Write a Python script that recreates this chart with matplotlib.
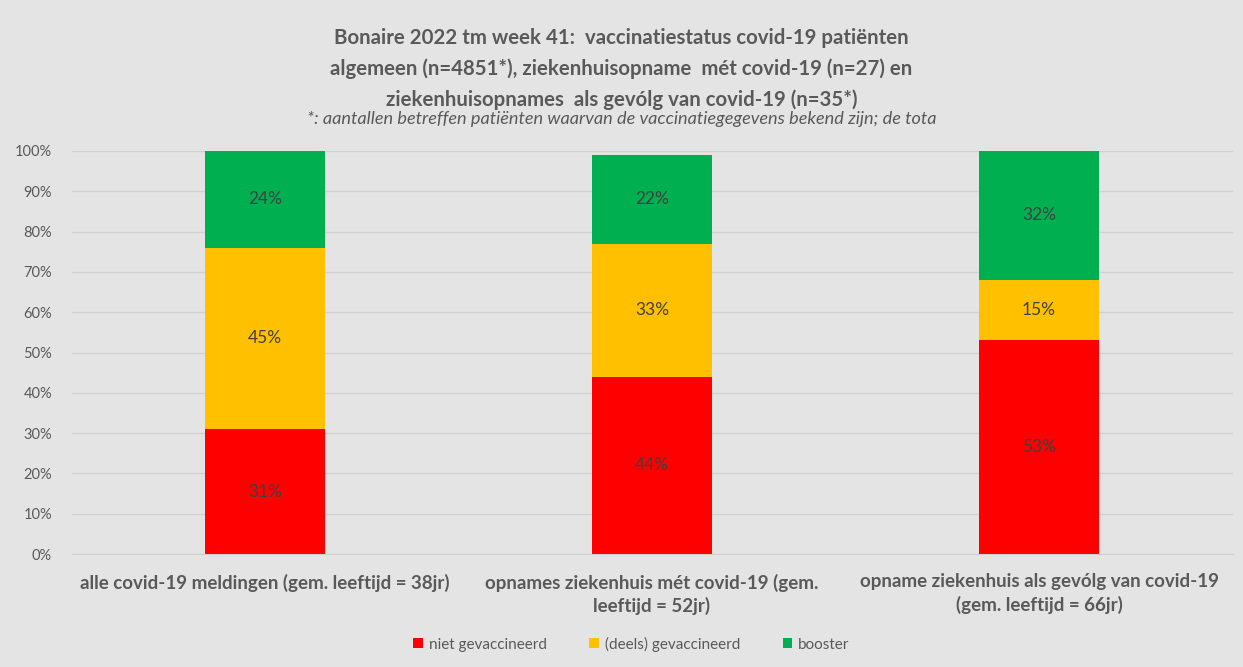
import matplotlib
matplotlib.use("Agg")
import matplotlib.pyplot as plt
import numpy as np

categories = ["alle covid-19 meldingen (gem. leeftijd = 38jr)",
              "opnames ziekenhuis mét covid-19 (gem.\nleeftijd = 52jr)",
              "opname ziekenhuis als gevólg van covid-19\n(gem. leeftijd = 66jr)"]
series_names = ["niet gevaccineerd", "(deels) gevaccineerd", "booster"]
niet = [31, 44, 53]
deels = [45, 33, 15]
booster = [24, 22, 32]
colors = ["#FF0000", "#FFC000", "#00B050"]
yticks = [0, 10, 20, 30, 40, 50, 60, 70, 80, 90, 100]

plt.rcParams['font.family'] = ['Lato', 'DejaVu Sans']
bg = "#E4E4E4"
fig = plt.figure(figsize=(12.43, 6.67), dpi=100, facecolor=bg)
ax = fig.add_axes([71.5/1243, 1-554/667, (1232.5-71.5)/1243, (554-151)/667])
ax.set_facecolor(bg)

x = np.arange(len(categories))
w = 0.31
bottoms = np.zeros(3)
for vals, c, name in zip([niet, deels, booster], colors, series_names):
    vals = np.array(vals, dtype=float)
    ax.bar(x, vals, w, bottom=bottoms, color=c, label=name, zorder=3)
    for xi, b, v in zip(x, bottoms, vals):
        ax.text(xi, b + v/2, f"{int(v)}%", ha="center", va="center",
                fontsize=12.5, color="#404040", zorder=4)
    bottoms += vals

ax.set_xlim(-0.5, 2.5)
ax.set_ylim(0, 100)
ax.set_yticks(yticks)
ax.set_yticklabels([f"{t}%" for t in yticks], fontsize=10.5, color="#595959")
ax.yaxis.grid(True, color="#D0D0D0", linewidth=1, zorder=0)
ax.tick_params(axis="y", length=0, pad=14)
ax.tick_params(axis="x", length=0, pad=14)
ax.set_xticks(x)
ax.set_xticklabels(categories, fontsize=13.5, fontweight="bold", color="#595959",
                   linespacing=1.35)
for s in ["top", "right", "left"]:
    ax.spines[s].set_visible(False)
ax.spines["bottom"].set_color("#D0D0D0")

fig.text(0.5, 1-69/667, "Bonaire 2022 tm week 41:  vaccinatiestatus covid-19 patiënten\n"
         "algemeen (n=4851*), ziekenhuisopname  mét covid-19 (n=27) en\n"
         "ziekenhuisopnames  als gevólg van covid-19 (n=35*)",
         ha="center", va="center", fontsize=14.7, fontweight="bold", color="#595959",
         linespacing=1.62)
fig.text(0.5, 1-119/667, "*: aantallen betreffen patiënten waarvan de vaccinatiegegevens bekend zijn; de tota",
         ha="center", va="center", fontsize=13.1, style="italic", color="#595959")

leg = fig.legend(loc="center", bbox_to_anchor=(0.508, 1-644/667), ncol=3, frameon=False,
                 fontsize=11, handlelength=0.6, handleheight=0.6, handletextpad=0.4,
                 columnspacing=2.8)
for t in leg.get_texts():
    t.set_color("#595959")

fig.savefig("out.png", dpi=100, facecolor=bg)
